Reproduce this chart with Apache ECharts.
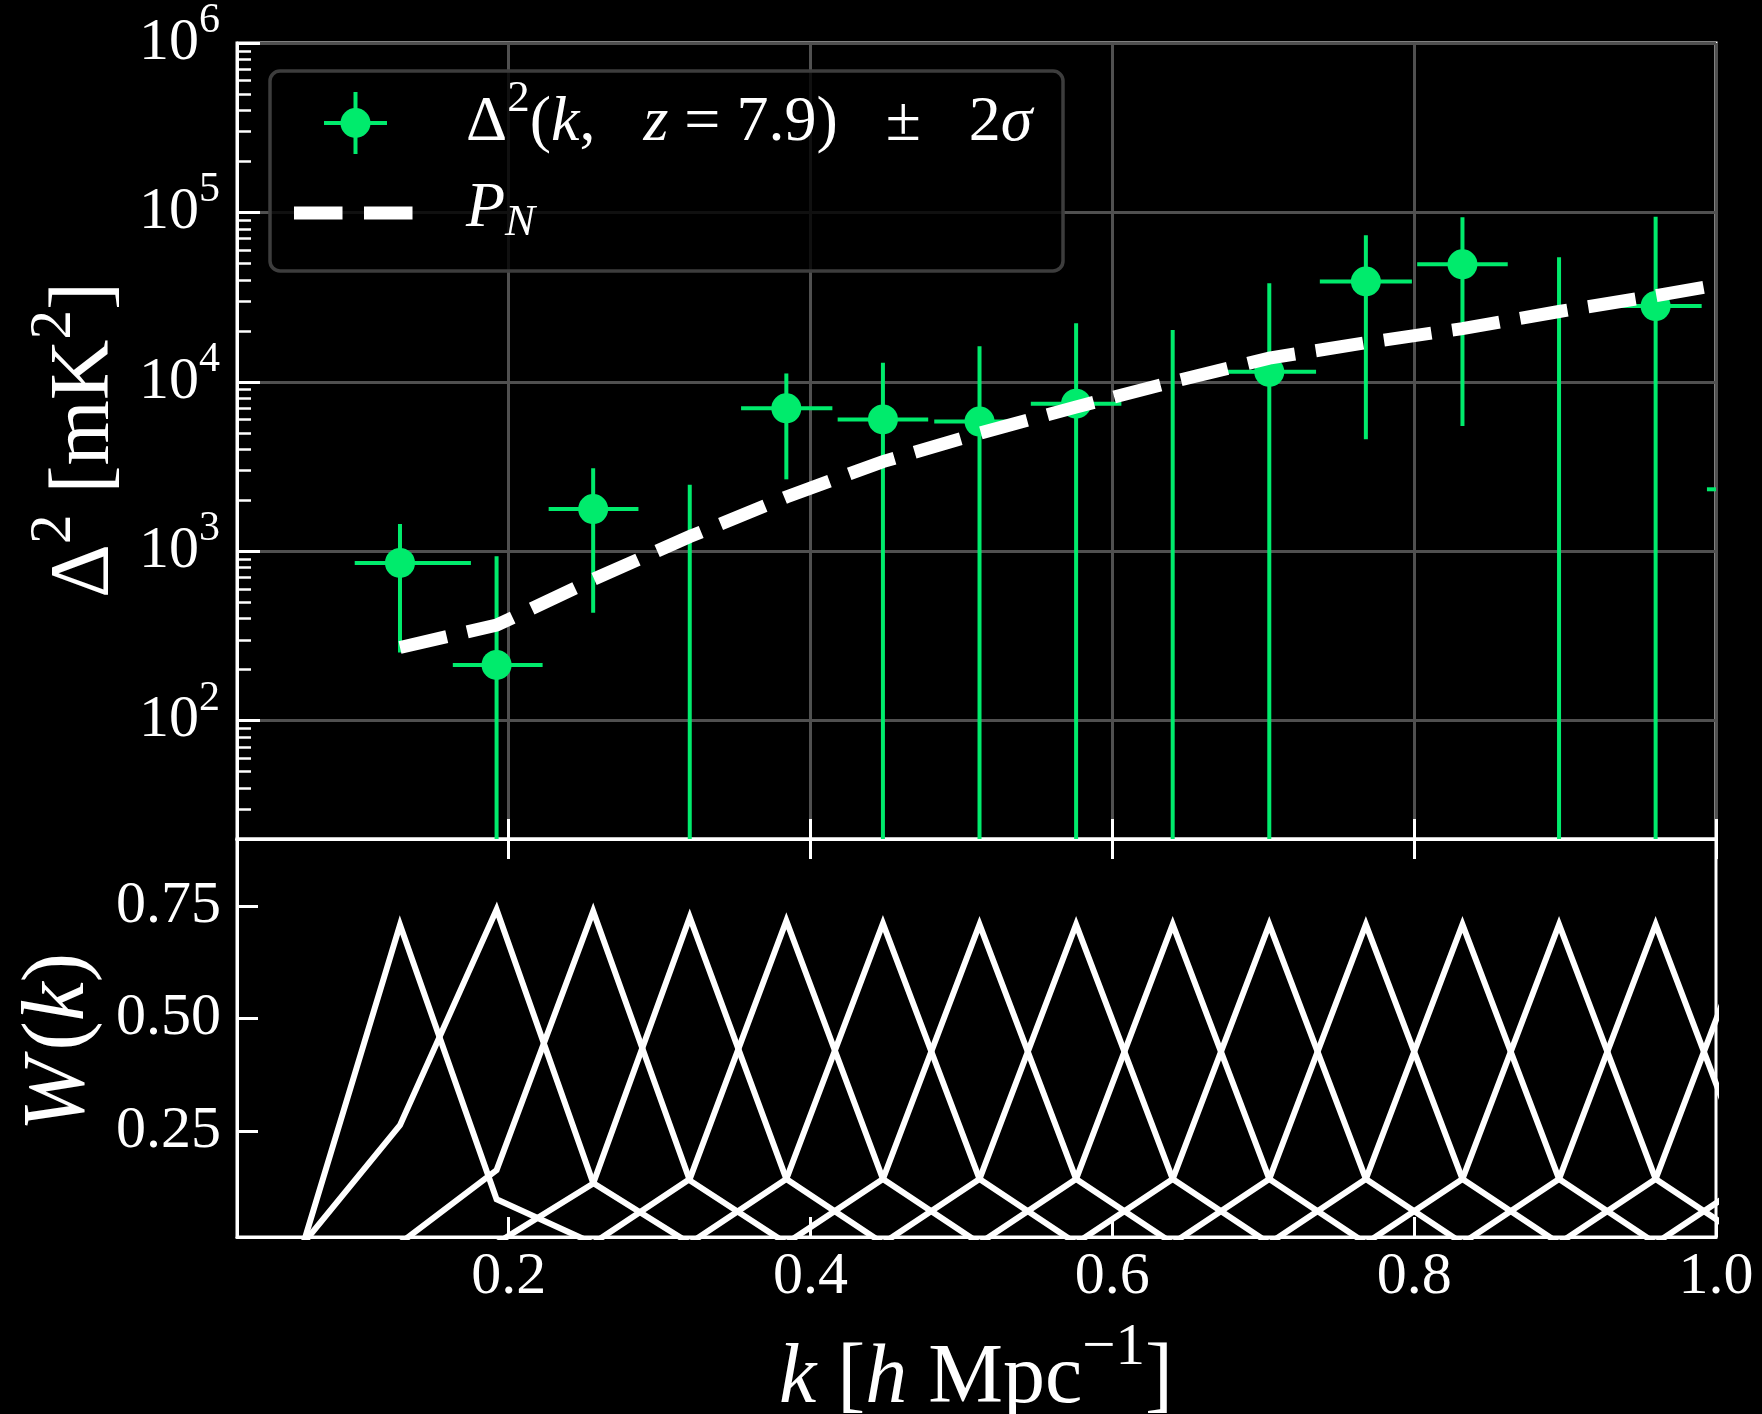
<!DOCTYPE html>
<html><head><meta charset="utf-8">
<script src="https://cdn.jsdelivr.net/npm/echarts@6/dist/echarts.min.js"></script>
<style>html,body{margin:0;padding:0;background:#000;}#c{width:1762px;height:1414px;}</style>
</head><body><div id="c"></div>
<script>
// ---- data ----
const kBins     = [0.128, 0.192, 0.256, 0.320, 0.384, 0.448, 0.512, 0.576, 0.640, 0.704, 0.768, 0.832, 0.896, 0.960, 1.024];
const delta2    = [853, 213, 1773, null, 6970, 5995, 5820, 7430, null, 11450, 39100, 49400, null, 28000, 2320];
const errUpper  = [1448, 935, 3090, 2465, 11200, 12940, 16220, 22200, 20200, 38200, 73400, 93500, 54300, 94400, null];
const errLower  = [252, null, 433, null, 2655, null, null, null, null, null, 4580, 5480, null, null, null];
const kErrLeft  = [0.030, 0.029, 0.0295, 0.030, 0.030, 0.030, 0.030, 0.030, 0.030, 0.030, 0.0305, 0.030, 0.030, 0.030, 0.030];
const kErrRight = [0.047, 0.0305, 0.030, 0.030, 0.0305, 0.030, 0.030, 0.030, 0.030, 0.031, 0.0305, 0.030, 0.030, 0.0305, 0.030];
const noisePN   = [270, 366, 681, 1220, 2090, 3380, 4970, 7100, 10000, 13800, 17000, 20600, 26000, 32200, 40500];

// window functions: value at own bin (peak), at neighbour bins, zero two bins away
const windowGridK = [0.000, 0.064, 0.128, 0.192, 0.256, 0.320, 0.384, 0.448, 0.512, 0.576, 0.640, 0.704, 0.768, 0.832, 0.896, 0.960, 1.024, 1.088, 1.152, 1.216];
const windowPeak  = [0.709, 0.743, 0.739, 0.726, 0.718, 0.712, 0.710, 0.710, 0.710, 0.710, 0.710, 0.710, 0.710, 0.710, 0.710, 0.710];
const windowLeft  = [0.000, 0.263, 0.163, 0.133, 0.143, 0.143, 0.143, 0.143, 0.143, 0.143, 0.143, 0.143, 0.143, 0.143, 0.143, 0.143];
const windowRight = [0.098, 0.134, 0.140, 0.143, 0.143, 0.143, 0.143, 0.143, 0.143, 0.143, 0.143, 0.143, 0.143, 0.143, 0.143, 0.143];
const windowFar   = 0.0;

const xTickValues   = [0.2, 0.4, 0.6, 0.8, 1.0];
const wTickValues   = [0.25, 0.50, 0.75];
const yMinorTicks   = [30,40,50,60,70,80,90,200,300,400,500,600,700,800,900,2000,3000,4000,5000,6000,7000,8000,9000,20000,30000,40000,50000,60000,70000,80000,90000,200000,300000,400000,500000,600000,700000,800000,900000];

// ---- style ----
const GREEN = '#00eb6c';
const FONT = "'Liberation Serif', 'DejaVu Serif', serif";
const TICK = 60, TITLE = 84, LEG = 64;

function rich(size) {
  return {
    r: {fontFamily: FONT, fontSize: size, color: '#fff'},
    i: {fontFamily: FONT, fontSize: size, fontStyle: 'italic', color: '#fff'},
    s: {fontFamily: FONT, fontSize: Math.round(size * 0.7), color: '#fff', padding: [0, 0, Math.round(size * 0.75), 0]},
    d: {fontFamily: FONT, fontSize: Math.round(size * 0.7), fontStyle: 'italic', color: '#fff', padding: [Math.round(size * 0.45), 0, 0, 0]}
  };
}

function renderErrorBar(params, api) {
  const i = params.dataIndex;
  const cs = params.coordSys;
  const x0 = cs.x, x1 = cs.x + cs.width, y0 = cs.y, y1 = cs.y + cs.height;
  const cX = v => Math.max(x0, Math.min(x1, v));
  const cY = v => Math.max(y0, Math.min(y1, v));
  const k = kBins[i];
  const st = {stroke: GREEN, lineWidth: 4, lineCap: 'butt'};
  const children = [];
  const px = api.coord([k, 1000])[0];
  if (errUpper[i] != null && px >= x0 && px <= x1) {
    const yt = cY(api.coord([k, errUpper[i]])[1]);
    const yb = errLower[i] == null ? y1 : cY(api.coord([k, errLower[i]])[1]);
    children.push({type: 'line', shape: {x1: px, y1: yt, x2: px, y2: yb}, style: st});
  }
  if (delta2[i] != null) {
    const c = api.coord([k, delta2[i]]);
    if (c[1] >= y0 && c[1] <= y1) {
      const xa = cX(api.coord([k - kErrLeft[i], delta2[i]])[0]);
      const xb = cX(api.coord([k + kErrRight[i], delta2[i]])[0]);
      if (xb > xa) children.push({type: 'line', shape: {x1: xa, y1: c[1], x2: xb, y2: c[1]}, style: st});
      if (c[0] >= x0 && c[0] <= x1) children.push({type: 'circle', shape: {cx: c[0], cy: c[1], r: 15}, style: {fill: GREEN}});
    }
  }
  return {type: 'group', children};
}

const windowSeries = windowPeak.map((p, i) => ({
  type: 'line', xAxisIndex: 1, yAxisIndex: 2, symbol: 'none', clip: true, silent: true,
  lineStyle: {color: '#fff', width: 6, join: 'miter'},
  data: [[windowGridK[i], windowFar], [windowGridK[i + 1], windowLeft[i]], [windowGridK[i + 2], p],
         [windowGridK[i + 3], windowRight[i]], [windowGridK[i + 4], windowFar]]
}));

const axisWhite = {lineStyle: {color: '#fff', width: 3}};

const option = {
  backgroundColor: '#000',
  animation: false,
  grid: [
    {left: 237, top: 40, width: 1479, height: 799, show: true, borderColor: '#fff', borderWidth: 3, backgroundColor: 'transparent'},
    {left: 237, top: 839, width: 1479, height: 398, show: true, borderColor: '#fff', borderWidth: 3, backgroundColor: 'transparent'}
  ],
  xAxis: [
    {type: 'value', gridIndex: 0, min: 0.02, max: 1.0, position: 'bottom',
     axisLine: axisWhite, axisLabel: {show: false},
     axisTick: {show: true, inside: true, length: 20, lineStyle: {color: '#fff', width: 3}, customValues: xTickValues},
     splitLine: {show: true, lineStyle: {color: '#505050', width: 3}}},
    {type: 'value', gridIndex: 1, min: 0.02, max: 1.0, position: 'bottom',
     axisLine: axisWhite,
     axisTick: {show: true, inside: true, length: 20, lineStyle: {color: '#fff', width: 3}, customValues: xTickValues},
     axisLabel: {show: true, margin: 10, customValues: xTickValues, formatter: v => v.toFixed(1),
                 fontFamily: FONT, fontSize: TICK, color: '#fff'},
     splitLine: {show: false}},
    {type: 'value', gridIndex: 1, min: 0.02, max: 1.0, position: 'top',
     axisLine: axisWhite, axisLabel: {show: false},
     axisTick: {show: true, inside: true, length: 20, lineStyle: {color: '#fff', width: 3}, customValues: xTickValues},
     splitLine: {show: false}}
  ],
  yAxis: [
    {type: 'log', logBase: 10, gridIndex: 0, min: 20, max: 1e6, splitNumber: 5,
     axisLine: axisWhite,
     axisTick: {show: true, inside: true, length: 23, lineStyle: {color: '#fff', width: 3}},
     axisLabel: {show: true, margin: 17, showMinLabel: false,
                 formatter: v => '{b|10}{e|' + Math.round(Math.log10(v)) + '}',
                 rich: {b: {fontFamily: FONT, fontSize: TICK, color: '#fff'},
                        e: {fontFamily: FONT, fontSize: 42, color: '#fff', padding: [0, 0, 44, 0]}}},
     splitLine: {show: true, lineStyle: {color: '#505050', width: 3}}},
    {type: 'log', logBase: 10, gridIndex: 0, min: 20, max: 1e6, position: 'left',
     axisLine: {show: false}, axisLabel: {show: false}, splitLine: {show: false},
     axisTick: {show: true, inside: true, length: 14, lineStyle: {color: '#fff', width: 2.5}, customValues: yMinorTicks}},
    {type: 'value', gridIndex: 1, min: 0.014, max: 0.90,
     axisLine: axisWhite,
     axisTick: {show: true, inside: true, length: 21, lineStyle: {color: '#fff', width: 3}, customValues: wTickValues},
     axisLabel: {show: true, margin: 16, customValues: wTickValues, formatter: v => v.toFixed(2),
                 fontFamily: FONT, fontSize: TICK, color: '#fff'},
     splitLine: {show: false}}
  ],
  series: [
    {type: 'custom', name: 'delta2', xAxisIndex: 0, yAxisIndex: 0, clip: true, z: 3,
     renderItem: renderErrorBar,
     data: kBins.map((k, i) => [k, delta2[i] != null ? delta2[i] : errUpper[i]])},
    {type: 'line', name: 'PN', xAxisIndex: 0, yAxisIndex: 0, symbol: 'none', clip: true, z: 4,
     lineStyle: {color: '#fff', width: 13, type: [48, 21], cap: 'butt', join: 'miter'},
     data: kBins.map((k, i) => [k, noisePN[i]])}
  ].concat(windowSeries),
  graphic: [
    {type: 'rect', z: 100, shape: {x: 270, y: 71, width: 793, height: 200, r: 10},
     style: {fill: 'rgba(0,0,0,0.8)', stroke: '#3d3d3d', lineWidth: 3.5}},
    {type: 'line', z: 101, shape: {x1: 324, y1: 123, x2: 387, y2: 123}, style: {stroke: GREEN, lineWidth: 4}},
    {type: 'line', z: 101, shape: {x1: 355.5, y1: 92, x2: 355.5, y2: 154}, style: {stroke: GREEN, lineWidth: 4}},
    {type: 'circle', z: 101, shape: {cx: 355.5, cy: 123, r: 15}, style: {fill: GREEN}},
    {type: 'line', z: 101, shape: {x1: 294, y1: 213, x2: 413, y2: 213}, style: {stroke: '#fff', lineWidth: 13, lineDash: [48.5, 21.5]}},
    {type: 'text', z: 101, x: 466, y: 123,
     style: {text: '{r|Δ}{s|2}{r|(}{i|k}{r|,   }{i|z}{r| = 7.9)   ±   2}{i|σ}', rich: rich(LEG), verticalAlign: 'middle', align: 'left', fill: '#fff'}},
    {type: 'text', z: 101, x: 466, y: 209,
     style: {text: '{i|P}{d|N}', rich: rich(LEG), verticalAlign: 'middle', align: 'left', fill: '#fff'}},
    {type: 'text', z: 101, x: 976, y: 1380,
     style: {text: '{i|k}{r| [}{i|h}{r| Mpc}{s|−1}{r|]}', rich: rich(TITLE), verticalAlign: 'middle', align: 'center', fill: '#fff'}},
    {type: 'text', z: 101, x: 86, y: 440, rotation: Math.PI / 2,
     style: {text: '{r|Δ}{s|2}{r| [mK}{s|2}{r|]}', rich: rich(TITLE), verticalAlign: 'middle', align: 'center', fill: '#fff'}},
    {type: 'text', z: 101, x: 60, y: 1042, rotation: Math.PI / 2,
     style: {text: '{i|W}{r|\u200a(}{i|k}{r|)}', rich: rich(TITLE + 4), verticalAlign: 'middle', align: 'center', fill: '#fff'}}
  ]
};

const chart = echarts.init(document.getElementById('c'), null, {renderer: 'canvas'});
chart.setOption(option);
</script>
</body></html>
